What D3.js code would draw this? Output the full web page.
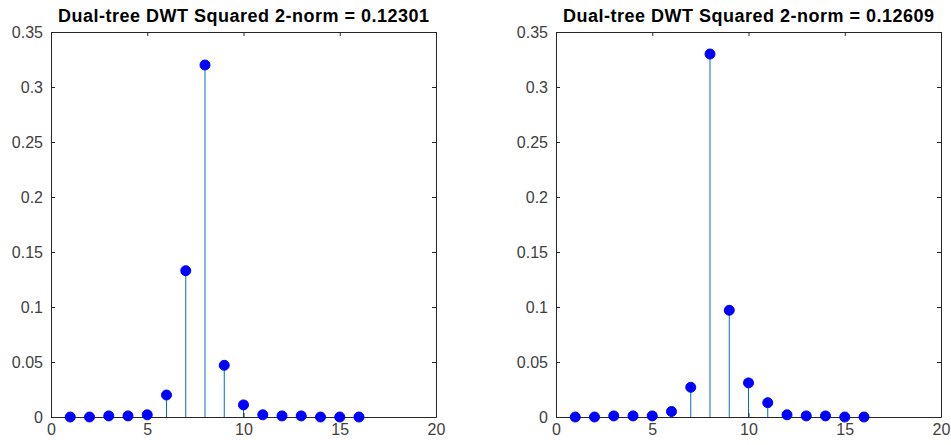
<!DOCTYPE html>
<html>
<head>
<meta charset="utf-8">
<script src="https://cdn.jsdelivr.net/npm/d3@7"></script>
<style>
  body { margin: 0; background: #fff; }
  svg { display: block; }
</style>
</head>
<body>
<div id="chart"></div>
<script>
// Sample index 1..16
const indices = d3.range(1, 17);
// Squared coefficients per level
const leftValues = [0, 0, 0.001, 0.001, 0.002, 0.02, 0.133, 0.32, 0.047, 0.011, 0.002, 0.001, 0.001, 0, 0, 0];
const rightValues = [0, 0, 0.001, 0.001, 0.001, 0.005, 0.027, 0.33, 0.097, 0.031, 0.013, 0.002, 0.001, 0.001, 0, 0];
const titles = ['Dual-tree DWT Squared 2-norm = 0.12301', 'Dual-tree DWT Squared 2-norm = 0.12609'];
const xTicks = [0, 5, 10, 15, 20];
const yTicks = [0, 0.05, 0.1, 0.15, 0.2, 0.25, 0.3, 0.35];

const width = 951;
const height = 445;
const panels = [
	{ left: 51, values: leftValues, title: titles[0] },
	{ left: 556, values: rightValues, title: titles[1] },
];
const plotW = 385;
const plotTop = 32;
const plotBottom = 417;
const font = 'Liberation Sans, Arial, sans-serif';

const svg = d3.select('#chart')
	.append('svg')
	.attr('width', width)
	.attr('height', height);

// Style an axis group the MATLAB way: dark grey lines, inward ticks
function styleAxis(ag) {
	ag.select('.domain').attr('stroke', '#262626');
	ag.selectAll('.tick line').attr('stroke', '#262626');
	ag.selectAll('.tick text')
		.attr('fill', '#404040')
		.style('font-family', font)
		.style('font-size', '16px');
}

panels.forEach((p) => {
	const x = d3.scaleLinear().domain([0, 20]).range([p.left, p.left + plotW]);
	const y = d3.scaleLinear().domain([0, 0.35]).range([plotBottom, plotTop]);
	const g = svg.append('g');

	// stems
	g.selectAll('line.stem')
		.data(indices)
		.join('line')
		.attr('class', 'stem')
		.attr('x1', (d) => x(d))
		.attr('x2', (d) => x(d))
		.attr('y1', y(0))
		.attr('y2', (d, i) => y(p.values[i]))
		.attr('stroke', '#0072bd')
		.attr('stroke-width', 1);

	const fmt = (d) => String(+d.toFixed(2));

	const bottomAxis = g.append('g')
		.attr('transform', `translate(0,${plotBottom})`)
		.call(d3.axisBottom(x).tickValues(xTicks).tickSizeInner(-4).tickSizeOuter(0).tickFormat(fmt));
	styleAxis(bottomAxis);
	bottomAxis.selectAll('.tick text').attr('y', 7);

	const topAxis = g.append('g')
		.attr('transform', `translate(0,${plotTop})`)
		.call(d3.axisTop(x).tickValues(xTicks).tickSizeInner(-4).tickSizeOuter(0).tickFormat(''));
	styleAxis(topAxis);

	const leftAxis = g.append('g')
		.attr('transform', `translate(${p.left},0)`)
		.call(d3.axisLeft(y).tickValues(yTicks).tickSizeInner(-4).tickSizeOuter(0).tickFormat(fmt));
	styleAxis(leftAxis);
	leftAxis.selectAll('.tick text').attr('x', -8);

	const rightAxis = g.append('g')
		.attr('transform', `translate(${p.left + plotW},0)`)
		.call(d3.axisRight(y).tickValues(yTicks).tickSizeInner(-4).tickSizeOuter(0).tickFormat(''));
	styleAxis(rightAxis);

	// markers
	g.selectAll('circle')
		.data(indices)
		.join('circle')
		.attr('cx', (d) => x(d))
		.attr('cy', (d, i) => y(p.values[i]))
		.attr('r', 5)
		.attr('fill', '#0000ff')
		.attr('stroke', '#0000ff');

	// title
	g.append('text')
		.attr('x', p.left + plotW / 2)
		.attr('y', 22)
		.attr('text-anchor', 'middle')
		.attr('textLength', 371)
		.attr('lengthAdjust', 'spacing')
		.style('font-family', font)
		.style('font-weight', 'bold')
		.style('font-size', '18px')
		.attr('fill', '#000')
		.text(p.title);
});
</script>
</body>
</html>
